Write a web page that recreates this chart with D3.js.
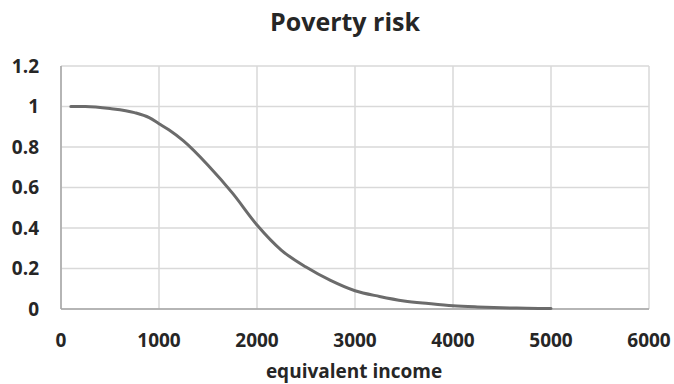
<!DOCTYPE html>
<html>
<head>
<meta charset="utf-8">
<script src="https://cdn.jsdelivr.net/npm/d3@7"></script>
<style>
  body { margin: 0; background: #fff; }
  svg text { font-family: "Open Sans", sans-serif; font-weight: bold; fill: #262626; }
</style>
</head>
<body>
<div id="chart"></div>
<script>
// equivalent income vs. poverty risk
const income = [100, 250, 500, 750, 900, 1000, 1100, 1250, 1500, 1750, 2000, 2250, 2500, 2750, 3000, 3250, 3500, 3750, 4000, 4250, 4500, 4750, 5000];
const risk = [1.0, 1.0, 0.99, 0.97, 0.945, 0.915, 0.885, 0.83, 0.71, 0.572, 0.415, 0.29, 0.207, 0.141, 0.09, 0.062, 0.04, 0.027, 0.016, 0.01, 0.006, 0.004, 0.002];
const xTicks = [0, 1000, 2000, 3000, 4000, 5000, 6000];
const yTicks = [0, 0.2, 0.4, 0.6, 0.8, 1, 1.2];

const W = 674, H = 384;
const M = { top: 66, right: 25, bottom: 75, left: 61 };

const svg = d3.select("#chart").append("svg").attr("width", W).attr("height", H);

const x = d3.scaleLinear().domain([0, 6000]).range([M.left, W - M.right]);
const y = d3.scaleLinear().domain([0, 1.2]).range([H - M.bottom, M.top]);

// grid
svg.append("g").selectAll("line.v").data(xTicks).join("line")
  .attr("x1", (d) => x(d)).attr("x2", (d) => x(d))
  .attr("y1", y(0)).attr("y2", y(1.2))
  .attr("stroke", "#d9d9d9").attr("stroke-width", 1.5);
svg.append("g").selectAll("line.h").data(yTicks).join("line")
  .attr("x1", x(0)).attr("x2", x(6000))
  .attr("y1", (d) => y(d)).attr("y2", (d) => y(d))
  .attr("stroke", "#d9d9d9").attr("stroke-width", 1.5);

// axis lines
svg.append("line").attr("x1", x(0)).attr("x2", x(0)).attr("y1", y(0)).attr("y2", y(1.2))
  .attr("stroke", "#a6a6a6").attr("stroke-width", 1.5);
svg.append("line").attr("x1", x(0)).attr("x2", x(6000)).attr("y1", y(0)).attr("y2", y(0))
  .attr("stroke", "#a6a6a6").attr("stroke-width", 1.5);

// tick labels
svg.append("g").selectAll("text").data(yTicks).join("text")
  .attr("x", x(0) - 22).attr("y", (d) => y(d)).attr("dy", "0.35em")
  .attr("text-anchor", "end").style("font-size", "19px")
  .text((d) => String(d));
svg.append("g").selectAll("text").data(xTicks).join("text")
  .attr("x", (d) => x(d)).attr("y", y(0) + 38)
  .attr("text-anchor", "middle").style("font-size", "19px")
  .text((d) => String(d));

// curve
const line = d3.line().x((d, i) => x(income[i])).y((d) => y(d)).curve(d3.curveMonotoneX);
svg.append("path").datum(risk).attr("d", line)
  .attr("fill", "none").attr("stroke", "#6b6b6b").attr("stroke-width", 3)
  .attr("stroke-linejoin", "round").attr("stroke-linecap", "round");

// titles
svg.append("text").attr("x", 345).attr("y", 31).attr("text-anchor", "middle")
  .style("font-size", "25px").text("Poverty risk");
svg.append("text").attr("x", 354).attr("y", 378).attr("text-anchor", "middle")
  .style("font-size", "19px").text("equivalent income");
</script>
</body>
</html>
